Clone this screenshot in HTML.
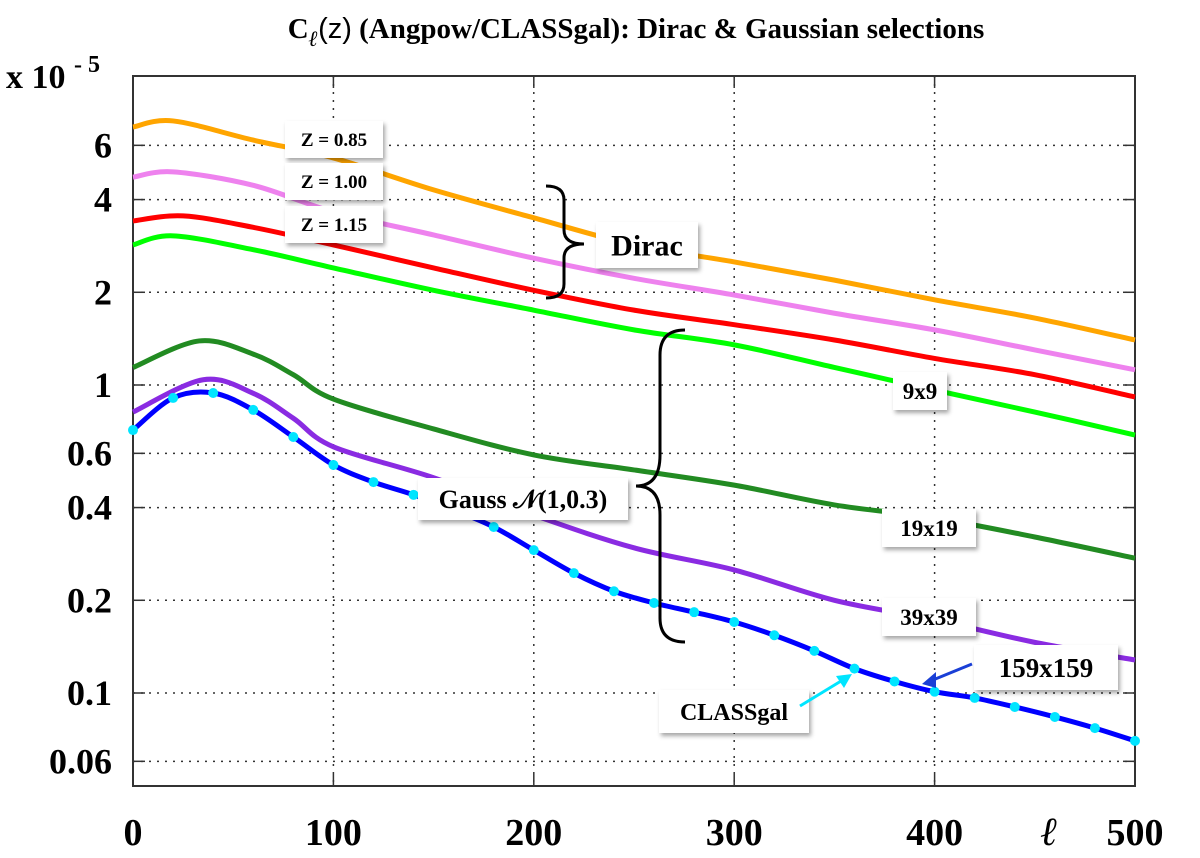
<!DOCTYPE html>
<html><head><meta charset="utf-8"><style>
body{margin:0;background:#fff;}
svg{display:block;font-family:"Liberation Serif",serif;font-weight:bold;}
</style></head><body>
<svg id="chart" width="1200" height="858">
<defs><filter id="sh" x="-10%" y="-10%" width="130%" height="140%"><feDropShadow dx="2" dy="3" stdDeviation="2" flood-color="#000" flood-opacity="0.35"/></filter></defs>
<text x="636" y="38" text-anchor="middle" font-size="29">C<tspan font-style="italic" font-size="22" dy="8">ℓ</tspan><tspan dy="-8" font-family="Liberation Sans" font-weight="normal">(z)</tspan> (Angpow/CLASSgal): Dirac &amp; Gaussian selections</text>
<text x="6" y="88" font-size="34">x 10 <tspan font-size="24" dy="-16">- 5</tspan></text>
<g id="grid"></g><g id="series"></g><g id="ann"></g>
</svg>
<script>
const ells12=[0,20,60,100,150,200,250,300,350,400,450,500];
const orangeVals=[6.88,7.20,6.24,5.46,4.30,3.49,2.85,2.51,2.19,1.89,1.65,1.40];
const pinkVals=[4.73,4.92,4.45,3.65,3.07,2.58,2.22,1.96,1.71,1.51,1.30,1.12];
const redElls=[0,25,60,100,150,200,250,300,350,400,450,500];
const redVals=[3.41,3.54,3.25,2.85,2.40,2.03,1.75,1.57,1.40,1.22,1.08,0.914];
const greenVals=[2.85,3.05,2.75,2.40,2.03,1.75,1.51,1.35,1.14,0.963,0.817,0.688];
const dgElls=[0,33,60,80,100,150,200,250,300,350,400,450,500];
const darkGreenVals=[1.14,1.39,1.26,1.08,0.90,0.72,0.593,0.530,0.473,0.408,0.370,0.321,0.274];
const purpleElls=[0,35,60,80,100,150,200,250,300,350,400,450,500];
const purpleVals=[0.817,1.04,0.94,0.78,0.63,0.50,0.378,0.296,0.251,0.200,0.173,0.146,0.128];
const blueElls=[0,20,40,60,80,100,120,140,160,180,200,220,240,260,280,300,320,340,360,380,400,420,440,460,480,500];
const blueVals=[0.714,0.908,0.942,0.830,0.678,0.550,0.484,0.440,0.393,0.346,0.291,0.245,0.214,0.196,0.183,0.170,0.154,0.137,0.120,0.109,0.101,0.0964,0.0901,0.0836,0.0769,0.0699];
const yTicks=[6,4,2,1,0.6,0.4,0.2,0.1,0.06];
const yTickLabels=["6","4","2","1","0.6","0.4","0.2","0.1","0.06"];
const xTicks=[0,100,200,300,400,500];

const X0=133,X1=1135,YT=76,YB=786;
const xs=l=>X0+(X1-X0)*l/500;
const ys=v=>385-308*Math.log10(v);
const NS="http://www.w3.org/2000/svg";
function mk(p,t,a){const e=document.createElementNS(NS,t);for(const k in a)e.setAttribute(k,a[k]);p.appendChild(e);return e;}
const grid=document.getElementById('grid'),ser=document.getElementById('series'),ann=document.getElementById('ann');
yTicks.forEach((v,i)=>{const y=ys(v);
 let l=mk(grid,'line',{x1:X0,x2:X1,y1:y,y2:y,stroke:'#333','stroke-dasharray':'2,6','stroke-width':1.5});
 
 mk(grid,'line',{x1:X0,x2:X0+12,y1:y,y2:y,stroke:'#333','stroke-width':1.5});
 mk(grid,'line',{x1:X1-12,x2:X1,y1:y,y2:y,stroke:'#333','stroke-width':1.5});
 let t=mk(grid,'text',{x:112,y:y+12,'text-anchor':'end','font-size':36});t.textContent=yTickLabels[i];
 });
xTicks.forEach(l=>{const x=xs(l);
 if(l>0&&l<500){let g=mk(grid,'line',{x1:x,x2:x,y1:YT,y2:YB,stroke:'#333','stroke-dasharray':'2,6','stroke-width':1.5});
 
 mk(grid,'line',{x1:x,x2:x,y1:YB-12,y2:YB,stroke:'#333','stroke-width':1.5});mk(grid,'line',{x1:x,x2:x,y1:YT,y2:YT+12,stroke:'#333','stroke-width':1.5});}
 let t=mk(grid,'text',{x:x,y:845,'text-anchor':'middle','font-size':38});t.textContent=l;
 });
let fr=mk(grid,'rect',{x:X0,y:YT,width:X1-X0,height:YB-YT,fill:'none',stroke:'#333','stroke-width':2});

let xl=mk(grid,'text',{x:1040,y:845,'font-size':40,'font-style':'italic','font-weight':'normal'});xl.textContent='ℓ';


function path(E,V){const p=E.map((l,i)=>[xs(l),ys(V[i])]);let d='M'+p[0][0]+','+p[0][1];
 for(let i=0;i<p.length-1;i++){const a=p[i-1]||p[i],b=p[i],c=p[i+1],e=p[i+2]||c;
 d+=' C'+(b[0]+(c[0]-a[0])/6)+','+(b[1]+(c[1]-a[1])/6)+' '+(c[0]-(e[0]-b[0])/6)+','+(c[1]-(e[1]-b[1])/6)+' '+c[0]+','+c[1];}return d;}
function line(E,V,col,name){let p=mk(ser,'path',{d:path(E,V),fill:'none',stroke:col,'stroke-width':5});
 }
line(ells12,orangeVals,'#ffa500','line-dirac-z085');
line(ells12,pinkVals,'#ee82ee','line-dirac-z100');
line(redElls,redVals,'#ff0000','line-dirac-z115');
line(ells12,greenVals,'#00ff00','line-gauss-9x9');
line(dgElls,darkGreenVals,'#228b22','line-gauss-19x19');
line(purpleElls,purpleVals,'#8a2be2','line-gauss-39x39');
line(blueElls,blueVals,'#0000ff','line-gauss-159x159');
blueElls.forEach((l,i)=>{let c=mk(ser,'circle',{cx:xs(l),cy:ys(blueVals[i]),r:5,fill:'#00e5ff'});
 });

function box(x,y,w,h,txt,fs,name){let g=mk(ann,'g',{});
 mk(g,'rect',{x:x,y:y,width:w,height:h,fill:'#fff',filter:'url(#sh)'});
 let t=mk(g,'text',{x:x+w/2,y:y+h/2+fs*0.35,'text-anchor':'middle','font-size':fs});t.textContent=txt;return t;}
box(285,121,98,37,'Z = 0.85',19,'label-z085');
box(285,163,98,37,'Z = 1.00',19,'label-z100');
box(285,206,98,37,'Z = 1.15',19,'label-z115');
box(596,222,102,46,'Dirac',30,'label-dirac');
box(893,372,54,38,'9x9',23,'label-9x9');
box(882,509,94,38,'19x19',23,'label-19x19');
box(882,598,94,38,'39x39',23,'label-39x39');
box(974,645,144,45,'159x159',27,'label-159x159');
box(659,690,150,43,'CLASSgal',24,'label-classgal');
box(418,478,210,42,'Gauss 𝒩(1,0.3)',26,'label-gauss');
let b1=mk(ann,'path',{d:'M546,186 Q564,186 564,200 L564,230 Q564,244 584,244 Q564,244 564,258 L564,284 Q564,298 546,298',fill:'none',stroke:'#000','stroke-width':3});

let b2=mk(ann,'path',{d:'M685,330 Q660,330 660,355 L660,455 Q660,486 636,486 Q660,486 660,515 L660,618 Q660,642 685,642',fill:'none',stroke:'#000','stroke-width':3});

let a1=mk(ann,'line',{x1:972,y1:664,x2:928,y2:682,stroke:'#1a3fd6','stroke-width':3});

mk(ann,'path',{d:'M922,684 L936,672 L936,688 Z',fill:'#1a3fd6'});
let a2=mk(ann,'line',{x1:800,y1:706,x2:846,y2:678,stroke:'#00e5ff','stroke-width':3});

mk(ann,'path',{d:'M852,674 L836,676 L844,688 Z',fill:'#00e5ff'});
</script>
</body></html>
